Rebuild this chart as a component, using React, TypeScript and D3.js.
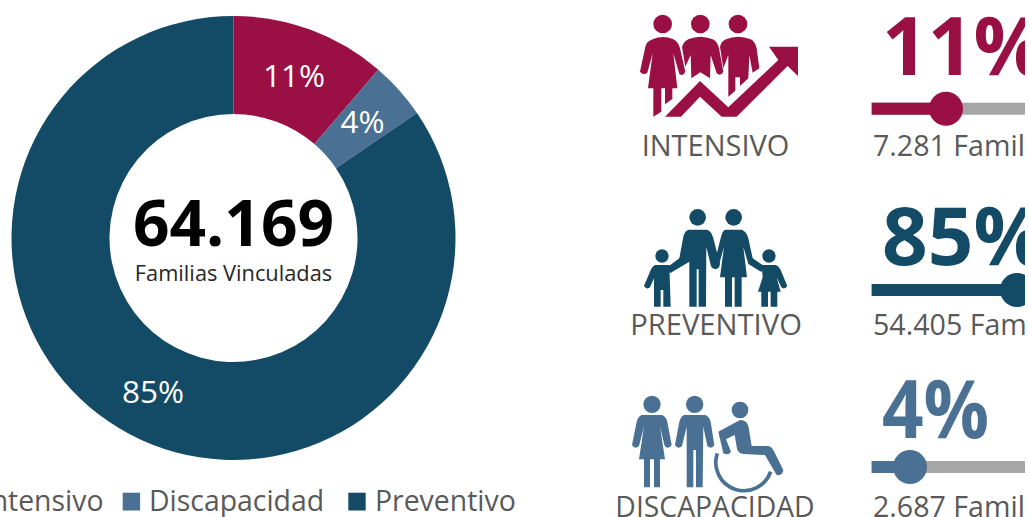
import React from 'react';
import * as d3 from 'd3';

const categories = ['Intensivo', 'Discapacidad', 'Preventivo'];
const families = [7281, 2687, 54405];
const shares = ['11%', '4%', '85%'];
const colors = ['#9B1044', '#4A7093', '#134A66'];
const totalLabel = '64.169';
const totalCaption = 'Familias Vinculadas';
const panelLabels = ['INTENSIVO', 'PREVENTIVO', 'DISCAPACIDAD'];
const panelShares = ['11%', '85%', '4%'];
const panelShareValues = [11, 85, 4];
const panelFamilies = ['7.281 Familias', '54.405 Familias', '2.687 Familias'];
const panelColors = ['#9B1044', '#134A66', '#4A7093'];

const FONT = '"Open Sans", sans-serif';
const GREY_TEXT = '#595959';
const S = 0.3333;

const sliderX = d3.scaleLinear().domain([4, 11, 85]).range([910, 946, 1017]);

function IntensivoIcon({ fill }: { fill: string }) {
  return (
    <g transform={`translate(620,0) scale(${S})`} fill={fill}>
      <circle cx={128} cy={72} r={28} />
      <circle cx={241} cy={72} r={28} />
      <circle cx={354} cy={72} r={28} />
      <path d="M98 118 Q128 104 160 118 Q174 124 180 145 L196 215 Q190 230 178 222 L160 160 L172 265 L157 265 L157 297 L135 313 L135 265 L124 265 L124 335 L100 350 L100 265 L84 265 L98 160 L82 218 Q70 228 60 215 L76 140 Q80 124 98 118 Z" />
      <path d="M205 118 Q241 102 278 118 Q292 124 297 145 L310 215 Q302 230 290 220 L272 165 L270 235 L241 217 L214 235 L212 165 L196 200 L186 140 Q192 124 205 118 Z" />
      <path d="M318 118 Q354 102 392 118 Q405 124 410 145 L418 205 L398 218 L388 165 L385 235 L360 258 L360 232 L346 232 L346 272 L325 290 L325 165 L310 205 L300 140 Q304 124 318 118 Z" />
      <path d="M135 350 L240 243 L325 322 L475 180 L447 140 L534 140 L534 228 L503 198 L350 350 L305 350 L240 290 L183 350 Z" />
    </g>
  );
}

function PreventivoIcon({ fill }: { fill: string }) {
  return (
    <g transform={`translate(620,190) scale(${S})`} fill={fill}>
      <circle cx={233} cy={82} r={25} />
      <circle cx={341} cy={82} r={25} />
      <circle cx={126} cy={198} r={20} />
      <circle cx={447} cy={198} r={20} />
      <path d="M205 119 L262 119 Q275 124 280 145 L300 222 Q298 238 285 237 Q274 235 272 225 L259 170 L258 350 L236 350 L236 238 L230 238 L230 350 L208 350 L208 215 L150 250 L142 232 L178 205 L190 140 Q194 124 205 119 Z" />
      <path d="M315 119 L365 119 Q380 124 385 145 L398 205 L432 228 L424 246 L385 222 L370 170 L381 262 L365 262 L365 350 L344 350 L344 262 L336 262 L336 350 L315 350 L315 262 L300 262 L312 170 L297 225 Q292 238 280 232 L302 145 Q306 124 315 119 Z" />
      <path d="M105 225 L148 225 L152 350 L130 350 L130 300 L122 300 L122 350 L102 350 L102 265 L90 292 Q80 300 72 288 L92 240 Q96 230 105 225 Z" />
      <path d="M425 225 L468 225 Q478 230 482 240 L502 288 Q494 300 484 292 L470 262 L482 305 L472 305 L472 350 L452 350 L452 305 L444 305 L444 350 L424 350 L424 305 L414 305 L428 262 Z" />
    </g>
  );
}

function DiscapacidadIcon({ fill }: { fill: string }) {
  return (
    <g transform={`translate(600,370) scale(${S})`} fill={fill}>
      <circle cx={156} cy={103} r={26} />
      <circle cx={284} cy={103} r={26} />
      <circle cx={420} cy={120} r={25} />
      <path d="M125 135 L186 135 Q198 140 202 155 L215 225 Q205 240 194 228 L180 170 L195 268 L180 268 L180 352 L162 352 L162 268 L150 268 L150 352 L132 352 L132 268 L117 268 L132 170 L117 228 Q105 240 96 225 L110 155 Q114 140 125 135 Z" />
      <path d="M252 135 L316 135 Q328 140 332 155 L343 225 Q335 240 322 228 L310 170 L308 352 L288 352 L288 240 L280 240 L280 352 L260 352 L260 170 L246 228 Q235 240 225 225 L238 155 Q242 140 252 135 Z" />
      <path d="M355 185 L420 150 Q442 150 446 172 L455 228 L505 228 Q515 230 520 240 L550 300 Q548 318 530 315 L495 255 L430 252 Q412 250 410 230 L404 195 L378 208 L393 245 Q385 258 370 250 Z" />
      <path d="M352 250 A80 80 0 0 0 512 305" fill="none" stroke={fill} strokeWidth={11} />
    </g>
  );
}

const icons = [IntensivoIcon, PreventivoIcon, DiscapacidadIcon];
const shareBaselines = [75, 265, 438];
const shareX = [882, 882, 882];
const shareStretch = [1, 1, 0.91];
const sliderY = [108.7, 290, 467];
const captionBaselines = [155.5, 334.5, 516.5];
const labelCenters = [715.5, 716, 715];
const labelSizes = [29, 29.2, 28.3];

export default function App() {
  const pie = d3.pie<number>().sort(null).value((d) => d);
  const arcs = pie(families);
  const arc = d3.arc<d3.PieArcDatum<number>>().innerRadius(124).outerRadius(222);
  const labelAnchors = [
    [294, 87],
    [362.5, 133],
    [153, 403],
  ];
  const legendItems = [
    { sq: null as number | null, tx: 103.5, anchor: 'end' },
    { sq: 122.7, tx: 149, anchor: 'start' },
    { sq: 348.3, tx: 375, anchor: 'start' },
  ];

  return (
    <svg
      width={1029}
      height={517}
      style={{ position: 'absolute', left: 0, top: 0, background: '#fff' }}
      fontFamily={FONT}
    >
      <defs>
        <clipPath id="panel-clip">
          <rect x={0} y={0} width={1025} height={517} />
        </clipPath>
      </defs>
      <g transform="translate(233.5,238)">
        {arcs.map((a, i) => (
          <path key={categories[i]} d={arc(a) as string} fill={colors[i]} />
        ))}
      </g>
      {shares.map((s, i) => (
        <text key={s} x={labelAnchors[i][0]} y={labelAnchors[i][1]} textAnchor="middle" fontSize={31.5} fill="#fff">
          {s}
        </text>
      ))}
      <text x={233.5} y={246} textAnchor="middle" fontSize={64} fontWeight={700} fill="#000">
        {totalLabel}
      </text>
      <text x={233.5} y={281} textAnchor="middle" fontSize={21.8} fill="#262626">
        {totalCaption}
      </text>

      {legendItems.map((l, i) => (
        <g key={categories[i]}>
          {l.sq !== null && <rect x={l.sq} y={492.7} width={17.4} height={17.8} fill={colors[i]} />}
          <text x={l.tx} y={510.5} textAnchor={l.anchor} fontSize={28.4} fill={GREY_TEXT}>
            {categories[i]}
          </text>
        </g>
      ))}

      <g clipPath="url(#panel-clip)">
        {panelLabels.map((label, i) => {
          const Icon = icons[i];
          const c = panelColors[i];
          const kx = sliderX(panelShareValues[i]);
          return (
            <g key={label}>
              <Icon fill={c} />
              <text x={labelCenters[i]} y={captionBaselines[i]} textAnchor="middle" fontSize={labelSizes[i]} fill={GREY_TEXT}>
                {label}
              </text>
              <text
                transform={`translate(${shareX[i]},${shareBaselines[i]}) scale(${shareStretch[i]},1)`}
                fontSize={80}
                fontWeight={700}
                fill={c}
              >
                {panelShares[i]}
              </text>
              <rect x={871.7} y={sliderY[i] - 6} width={170} height={12} fill="#A6A6A6" />
              <rect x={871.7} y={sliderY[i] - 6} width={kx - 871.7} height={12} fill={c} />
              <circle cx={kx} cy={sliderY[i]} r={17} fill={c} />
              <text x={873} y={captionBaselines[i]} fontSize={28.6} fill={GREY_TEXT}>
                {panelFamilies[i]}
              </text>
            </g>
          );
        })}
      </g>
    </svg>
  );
}
